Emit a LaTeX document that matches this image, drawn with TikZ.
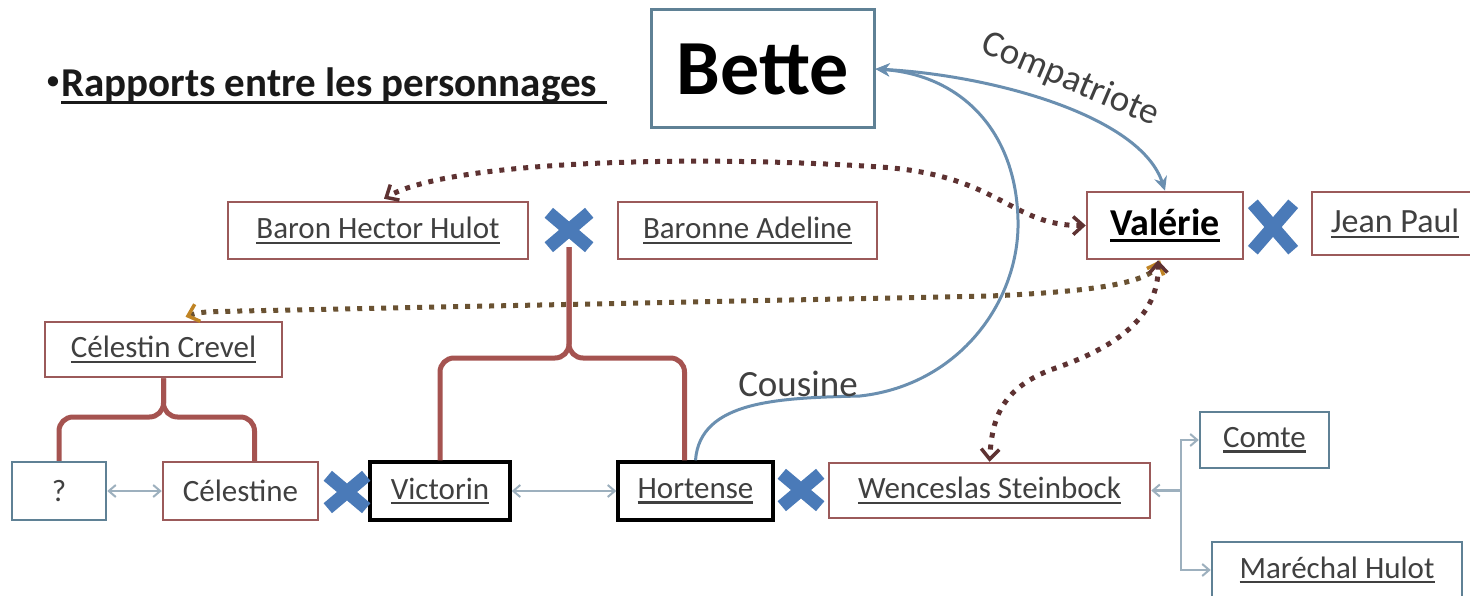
\documentclass[tikz,border=0pt]{standalone}
\usepackage{fontspec}
\setmainfont{Carlito}
\usetikzlibrary{arrows.meta,calc}
\definecolor{redb}{HTML}{9B5A5A}
\definecolor{blueb}{HTML}{5F8195}
\definecolor{xblue}{HTML}{4A7AB8}
\definecolor{curveb}{HTML}{6A8FB0}
\definecolor{dotred}{HTML}{5E3232}
\definecolor{dotbrown}{HTML}{6A5232}
\definecolor{tipor}{HTML}{C08424}
\definecolor{brk}{HTML}{A55350}
\definecolor{grayar}{HTML}{9DB0BE}
\definecolor{txt}{HTML}{404040}
\newcommand\ulx[1]{\leavevmode\setbox0\hbox{#1}\rlap{\raisebox{-0.17em}{\rule{\wd0}{0.075em}}}\box0}
\newcommand\fs[1]{\fontsize{#1}{#1}\selectfont}
\tikzset{
  bb/.tip={Straight Barb[length=10pt,width=18pt,line width=3.5pt]},
  ob/.tip={Straight Barb[length=10pt,width=18pt,line width=3.5pt,color=tipor]},
  gb/.tip={Straight Barb[length=7pt,width=12pt,line width=2pt]},
  st/.tip={Stealth[length=14pt,width=13pt]}
}
\begin{document}
\begin{tikzpicture}[x=1pt,y=-1pt,
  box/.style={draw, inner sep=0pt, line width=2.5pt, text=txt, font=\fs{31}},
  redbox/.style={box, draw=redb},
  bluebox/.style={box, draw=blueb},
  blackbox/.style={box, draw=black, line width=3.5pt},
  xm/.style={inner sep=0pt},
  xline/.style={draw=xblue, line width=13pt},
  bluecurve/.style={draw=curveb, line width=3pt},
  dotline/.style={line width=5pt, dash pattern=on 5pt off 7pt},
  garrow/.style={draw=grayar, line width=2.5pt},
  bracket/.style={draw=brk, line width=5pt, rounded corners=14pt},
  lbl/.style={text=txt, font=\fs{37}}
]
\clip (0,0) rectangle (1470,596);
\fill[white] (0,0) rectangle (1470,596);

% title
\node[anchor=base west, inner sep=0pt, font=\fs{41}\bfseries, text=black!90] (title) at (47,97) {\raisebox{0.2em}{\fs{24}•}\hspace{2pt}\ulx{Rapports entre les personnages\hspace{0.25em}}};

% boxes
\node[bluebox, line width=3pt, minimum width=223, minimum height=118, text=black, font=\fs{78}\bfseries] (bette) at (762.5,69) {Bette};
\node[redbox, minimum width=156, minimum height=67, text=black, font=\fs{38}\bfseries] (valerie) at (1165,225.5) {\ulx{Valérie}};
\node[redbox, minimum width=166, minimum height=63, font=\fs{34}] (jean) at (1395,223.5) {\ulx{Jean Paul}};
\node[redbox, minimum width=300, minimum height=57] (baron) at (378,230.5) {\ulx{Baron Hector Hulot}};
\node[redbox, minimum width=259, minimum height=57] (adeline) at (747.5,230.5) {\ulx{Baronne Adeline}};
\node[redbox, minimum width=237, minimum height=55] (crevel) at (163.5,349.5) {\ulx{Célestin Crevel}};
\node[bluebox, minimum width=94, minimum height=58] (q) at (59,491) {?};
\node[redbox, minimum width=155, minimum height=58] (celestine) at (240.5,491) {Célestine};
\node[blackbox, minimum width=140, minimum height=58] (victorin) at (440,491) {\ulx{Victorin}};
\node[blackbox, minimum width=155, minimum height=58] (hortense) at (695.5,491) {\ulx{Hortense}};
\node[redbox, minimum width=321, minimum height=55] (wenceslas) at (989.5,490.5) {\ulx{Wenceslas Steinbock}};
\node[bluebox, minimum width=129, minimum height=56] (comte) at (1264.5,440) {\ulx{Comte}};
\node[bluebox, minimum width=250, minimum height=56] (marechal) at (1337,570) {\ulx{Maréchal Hulot}};

% marriage crosses
\node[xm, minimum width=40, minimum height=46] (x1) at (1273,227) {};
\node[xm, minimum width=40, minimum height=34] (x2) at (569,230) {};
\node[xm, minimum width=38, minimum height=32] (x3) at (347,492) {};
\node[xm, minimum width=38, minimum height=32] (x4) at (801,490) {};

% brackets (family)
\coordinate (cl) at ($(celestine.north)+(14,0)$);
\coordinate (hl) at ($(hortense.north)+(-11,0)$);
\draw[bracket] (q.north) -- (q.north |- 0,417) -- (crevel.south |- 0,417) -- (crevel.south);
\draw[bracket] (crevel.south) -- (crevel.south |- 0,417) -- (cl |- 0,417) -- (cl);
\draw[bracket] (victorin.north) -- (victorin.north |- 0,358) -- (x2.south |- 0,358) -- (x2.south);
\draw[bracket] (x2.south) -- (x2.south |- 0,358) -- (hl |- 0,358) -- (hl);

\foreach \n in {x1,x2,x3,x4}
  \draw[xline] (\n.north west) -- (\n.south east) (\n.south west) -- (\n.north east);

% dotted relations
\draw[dotline, dotred, bb-bb] (valerie.west) .. controls (1010,226) and (1000,175) .. (880,167)
   .. controls (700,155) and (450,160) .. ($(baron.north)+(6,-2)$);
\coordinate (cs) at ($(crevel.north)+(22,-4)$);
\draw[dotline, dotbrown, ob-ob] (cs) .. controls (200,312) .. (240,311) -- (990,296)
   .. controls (1080,292) and (1150,285) .. ($(valerie.south)+(-5,0)$);
\draw[dotline, dotred, bb-bb] ($(valerie.south)+(-7,0)$) .. controls (1160,320) and (1110,350) .. (1050,370)
   .. controls (1000,390) and (992,420) .. (wenceslas.north);

% Bette relations
\draw[bluecurve, st-st] (bette.east) .. controls (990,75) and (1140,115) .. (valerie.north);
\draw[bluecurve, -st] (hortense.north) .. controls (700,400) and (780,398) .. (860,396)
   .. controls (960,385) and (1020,300) .. (1018,220)
   .. controls (1016,130) and (960,75) .. (bette.east);
\node[lbl] (cousine) at (798,384) {Cousine};
\node[lbl, rotate=-23, inner sep=0pt] (compat) at (1070,80) {Compatriote};

% gray links
\draw[garrow, gb-gb] (q.east) -- (celestine.west);
\draw[garrow, gb-gb] (victorin.east) -- (hortense.west);
\coordinate (fork) at (1181,490.5);
\draw[garrow, gb-] (wenceslas.east) -- (fork);
\draw[garrow, -gb] (fork) |- (comte.west);
\draw[garrow, -gb] (fork) |- (marechal.west);
\end{tikzpicture}
\end{document}
